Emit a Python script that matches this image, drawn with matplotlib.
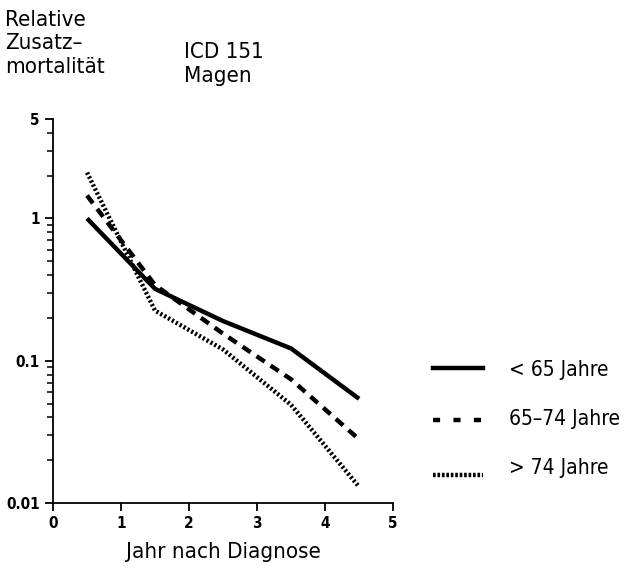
import numpy as np
import matplotlib.pyplot as plt
from matplotlib.ticker import FixedLocator, NullFormatter

jahre = [0.5, 1.5, 2.5, 3.5, 4.5]
unter_65 = [1.0, 0.32, 0.19, 0.122, 0.054]
von_65_74 = [1.45, 0.34, 0.155, 0.074, 0.028]
ueber_74 = [2.1, 0.225, 0.12, 0.049, 0.013]
labels = ['< 65 Jahre', '65–74 Jahre', '> 74 Jahre']

plt.rcParams['font.family'] = 'DejaVu Sans'
plt.rcParams['font.stretch'] = 'condensed'

fig = plt.figure(figsize=(6.35, 5.72), dpi=100)
ax = fig.add_axes([0.0835, 0.1206, 0.5355, 0.6714])

ax.plot(jahre, unter_65, color='black', lw=3.2, solid_capstyle='butt')
ax.plot(jahre, von_65_74, color='black', lw=3.2, linestyle=(0, (2.2, 1.6)))
ax.plot(jahre, ueber_74, color='black', lw=3.2, linestyle=(0, (0.5, 0.5)))

ax.set_yscale('log')
ax.set_ylim(0.01, 5)
ax.set_xlim(0, 5)
ax.set_xticks([0, 1, 2, 3, 4, 5])
ax.set_yticks([0.01, 0.1, 1, 5])
ax.set_yticklabels(['0.01', '0.1', '1', '5'])
minors = [m * 10.0 ** e for e in (-2, -1, 0) for m in range(2, 10) if m * 10.0 ** e < 5]
ax.yaxis.set_minor_locator(FixedLocator(minors))
ax.yaxis.set_minor_formatter(NullFormatter())
ax.spines['top'].set_visible(False)
ax.spines['right'].set_visible(False)
ax.spines['left'].set_linewidth(1.3)
ax.spines['bottom'].set_linewidth(1.3)
ax.tick_params(axis='both', which='major', direction='out', length=6, width=1.3, labelsize=11)
ax.tick_params(axis='y', which='minor', direction='out', length=4, width=1.1)
for t in ax.get_xticklabels() + ax.get_yticklabels():
    t.set_fontweight('bold')
ax.set_xlabel('Jahr nach Diagnose', fontsize=16, labelpad=8)

fig.text(0.008, 0.982, 'Relative\nZusatz–\nmortalität', fontsize=16, va='top', ha='left', linespacing=1.2)
fig.text(0.29, 0.926, 'ICD 151\nMagen', fontsize=16, va='top', ha='left', linespacing=1.2)

# legend drawn in figure coords
styles = ['-', (0, (1.6, 3.0)), (0, (0.6, 0.4))]
line_y = [0.357, 0.266, 0.17]
text_y = [0.353, 0.267, 0.182]
for lab, ls, ly, ty in zip(labels, styles, line_y, text_y):
    fig.add_artist(plt.Line2D([0.682, 0.76], [ly, ly], color='black', lw=3.2, linestyle=ls, transform=fig.transFigure))
    fig.text(0.802, ty, lab, fontsize=15, va='center', ha='left')

fig.savefig('out.png', dpi=100)
